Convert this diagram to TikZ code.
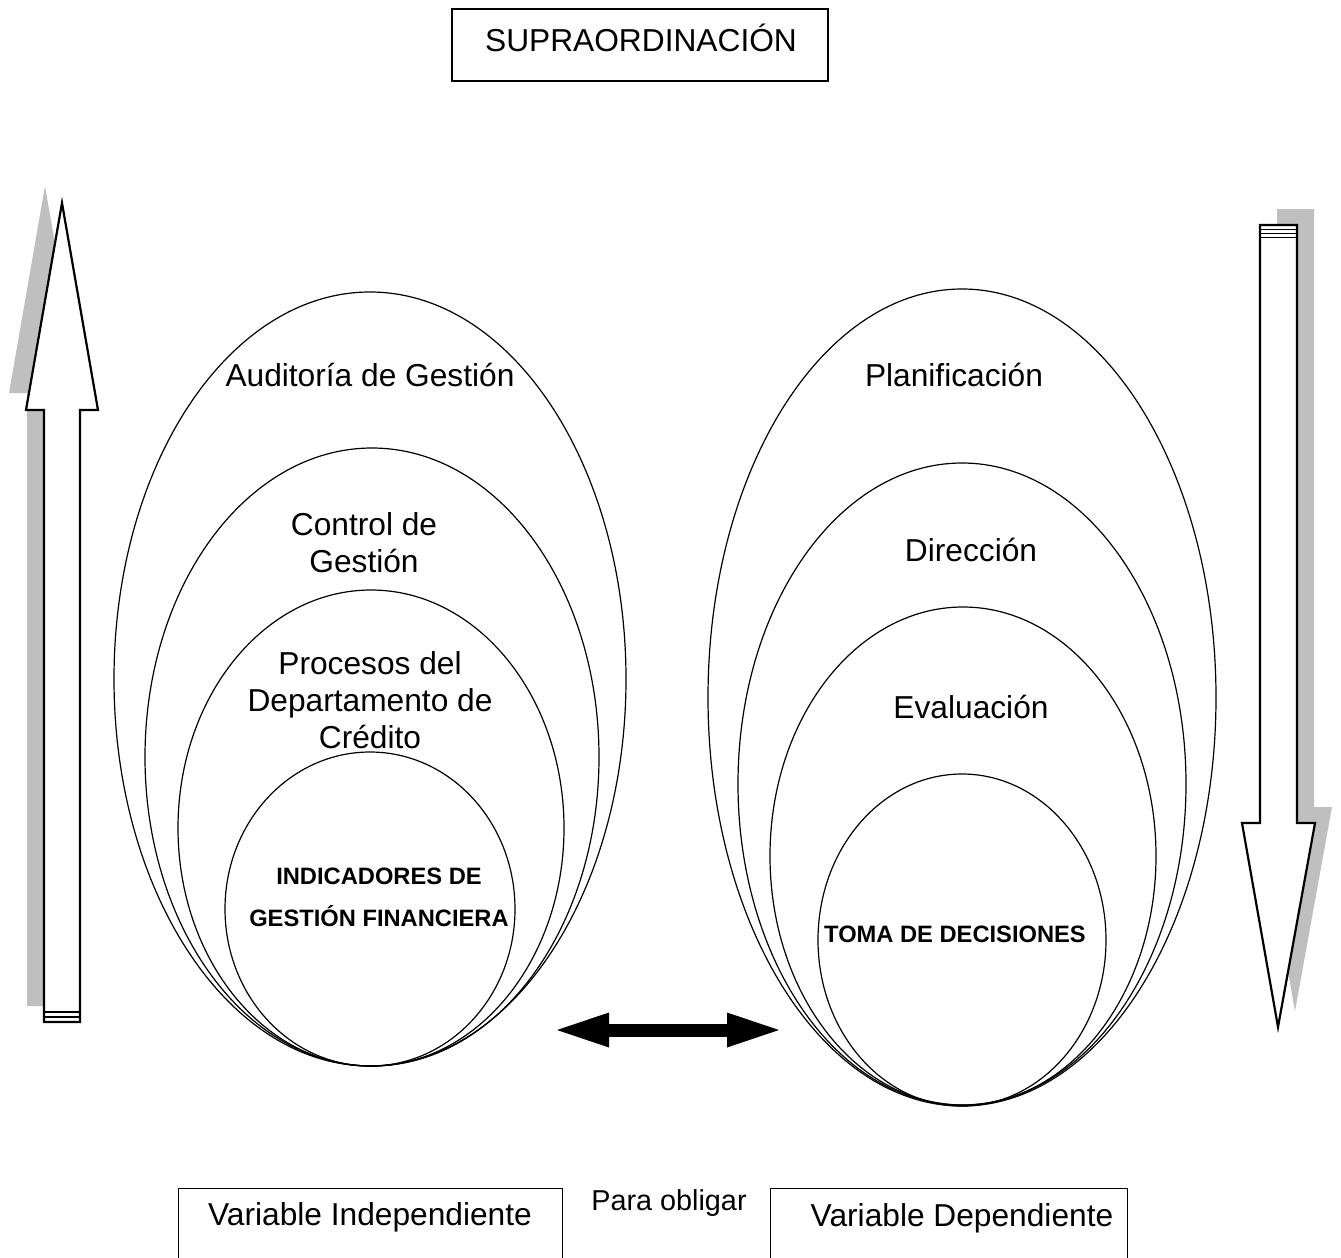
\documentclass[tikz,border=0pt]{standalone}
\usepackage{fontspec}
\setmainfont{Liberation Sans}
\usetikzlibrary{shapes.geometric,arrows.meta}

\begin{document}
\begin{tikzpicture}[x=1pt,y=-1pt,
  ring/.style={draw, ellipse, inner sep=0pt, line width=1.2pt},
  lbl/.style={align=center, font=\fontsize{31.7}{37}\selectfont, inner sep=0pt},
  small/.style={align=center, font=\fontsize{28.8}{34}\selectfont, inner sep=0pt},
  core/.style={align=center, font=\fontsize{23.7}{42}\selectfont\bfseries, inner sep=0pt},
  frame/.style={draw, line width=1.2pt, inner sep=0pt},
  shade/.style={fill=black!25, draw=none},
  bigarrow/.style={fill=white, draw=black, line width=2.2pt, line join=miter},
  stripe/.style={line width=1.4pt},
]
\useasboundingbox (0,0) rectangle (1341,1258);
\fill[white] (0,0) rectangle (1341,1258);

% title box
\node[frame, minimum width=376pt, minimum height=72pt] (topbox) at (640,45) {};
\node[lbl] (title) at (641,38) {SUPRAORDINACIÓN};

% rising arrow on the left, with its shadow
\fill[shade] (45,186) -- (81,393) -- (63,393) -- (63,1006) -- (27,1006)
  -- (27,393) -- (9,393) -- cycle;
\draw[bigarrow] (62,203) -- (98,410) -- (80,410) -- (80,1022) -- (44,1022)
  -- (44,410) -- (26,410) -- cycle;
\draw[stripe] (44,1012) -- (80,1012);
\draw[stripe] (44,1017) -- (80,1017);

% falling arrow on the right, with its shadow
\fill[shade] (1277,209) -- (1314,209) -- (1314,807) -- (1332,807) -- (1295,1011)
  -- (1259,807) -- (1277,807) -- cycle;
\draw[bigarrow] (1260,225) -- (1297,225) -- (1297,823) -- (1315,823) -- (1278,1027)
  -- (1242,823) -- (1260,823) -- cycle;
\draw[stripe] (1260,229.5) -- (1297,229.5);
\draw[stripe] (1260,233.5) -- (1297,233.5);
\draw[stripe] (1260,237.5) -- (1297,237.5);

% independent variable: nested ellipses
\node[ring, minimum width=512pt, minimum height=774pt] (a1) at (370,679) {};
\node[ring, minimum width=454pt, minimum height=618pt] (a2) at (372,757) {};
\node[ring, minimum width=386pt, minimum height=476pt] (a3) at (371,828) {};
\node[ring, minimum width=290pt, minimum height=314pt] (a4) at (370,909) {};

\node[lbl] (ta1) at (370,375) {Auditoría de Gestión};
\node[lbl] (ta2) at (364,543) {Control de\\Gestión};
\node[lbl] (ta3) at (370,700) {Procesos del\\Departamento de\\Crédito};
\node[core] (ta4) at (379,897) {INDICADORES DE\\GESTIÓN FINANCIERA};

% dependent variable: nested ellipses
\node[ring, minimum width=508pt, minimum height=817pt] (b1) at (962,697.5) {};
\node[ring, minimum width=448pt, minimum height=642pt] (b2) at (962,784) {};
\node[ring, minimum width=386pt, minimum height=498pt] (b3) at (963,856) {};
\node[ring, minimum width=288pt, minimum height=332pt] (b4) at (962,940) {};

\node[lbl] (tb1) at (954,375) {Planificación};
\node[lbl] (tb2) at (971,550) {Dirección};
\node[lbl] (tb3) at (971,707) {Evaluación};
\node[core] (tb4) at (955,934) {TOMA DE DECISIONES};

% link between the two groups
\coordinate (pl) at (557,1030);
\coordinate (pr) at (779,1030);
\draw[line width=13pt,
  {Triangle[length=52pt,width=35pt,line width=0pt]}-{Triangle[length=52pt,width=35pt,line width=0pt]}]
  (pl) -- (pr);

% variable boxes along the bottom
\node[frame, anchor=north west, minimum width=384pt, minimum height=100pt] (vibox) at (178,1188) {};
\node[frame, anchor=north west, minimum width=357pt, minimum height=100pt] (vdbox) at (770,1188) {};
\node[lbl] (vi) at (370,1217) {Variable Independiente};
\node[small] (po) at (669,1203) {Para obligar};
\node[lbl] (vd) at (962,1218) {Variable Dependiente};
\end{tikzpicture}
\end{document}
